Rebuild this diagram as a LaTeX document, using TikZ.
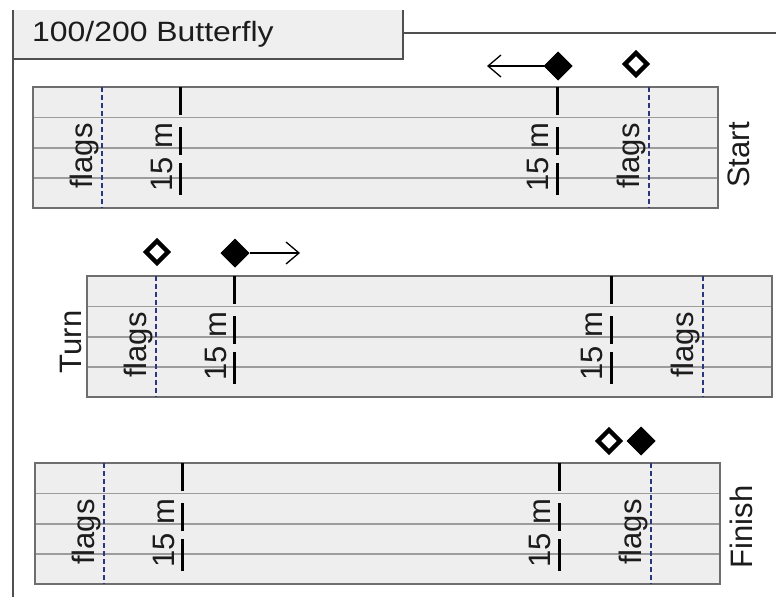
\documentclass[tikz,border=0pt]{standalone}
\usepackage{fontspec}
\setmainfont{Liberation Sans}
\usetikzlibrary{shapes.geometric,arrows.meta}
\definecolor{poolfill}{HTML}{EEEEEE}
\definecolor{pooledge}{HTML}{6E6E6E}
\definecolor{laneline}{HTML}{9C9C9C}
\definecolor{flagblue}{HTML}{28387A}
\definecolor{ink}{HTML}{1C1C1C}
\definecolor{titlefill}{HTML}{EFEFEF}
\definecolor{frameedge}{HTML}{505050}

\begin{document}
\begin{tikzpicture}[x=1pt,y=-1pt,
  lbl/.style={font=\fontsize{31}{31}\selectfont, text=ink, inner sep=0pt, rotate=90},
  titletext/.style={font=\fontsize{31}{31}\selectfont, text=ink, inner sep=0pt},
  flagline/.style={flagblue, line width=2.6pt, dash pattern=on 5pt off 3pt},
  markline/.style={black, line width=3pt},
  laneedge/.style={laneline, line width=1.2pt},
  pooledgeline/.style={pooledge, line width=1.6pt},
  frameline/.style={frameedge, line width=1.5pt},
  solidmark/.style={diamond, draw=black, fill=black, line width=1pt, minimum size=28pt, inner sep=0pt},
  openmark/.style={diamond, draw=black, fill=white, line width=4.4pt, minimum size=24pt, inner sep=0pt},
  swimarrow/.style={black, line width=1.3pt, -{Straight Barb[length=13pt,width=22pt,line width=1.3pt]}}
]
\useasboundingbox (0,0) rectangle (776,597);

% outer frame and title tab
\fill[titlefill] (13,10) rectangle (403,59);
\draw[frameline, line width=2.2pt] (13,10) -- (13,59) -- (403,59) -- (403,10);
\draw[frameline] (13,59) -- (13,597);
\draw[frameline] (403,33) -- (776,33);
\node[titletext, anchor=base west] (title) at (32,41) {\scalebox{1.03}[0.9]{100/200 Butterfly}};

% three pool lengths: start, turn, finish
\foreach \px/\py/\nm in {33/87/start, 87/276/turn, 35/463/finish} {
  \begin{scope}[shift={(\px,\py)}]
    \fill[poolfill] (0,0) rectangle (685,121);
    \foreach \ly in {30.5,61,91} \draw[laneedge] (0,\ly) -- (685,\ly);
    \draw[pooledgeline] (0,0) rectangle (685,121);
    % flag lines
    \draw[flagline] (69,0) -- (69,121);
    \draw[flagline] (616,0) -- (616,121);
    % 15 m marks
    \foreach \mx in {147,524} {
      \draw[markline] (\mx,0) -- (\mx,28);
      \draw[markline] (\mx,40) -- (\mx,68);
      \draw[markline] (\mx,76) -- (\mx,108);
    }
    \node[lbl, anchor=base] (\nm-flagsL) at (59,69) {flags};
    \node[lbl, anchor=base] (\nm-markL) at (139,70) {15 m};
    \node[lbl, anchor=base] (\nm-markR) at (515,70) {15 m};
    \node[lbl, anchor=base] (\nm-flagsR) at (606,69) {flags};
  \end{scope}
}

% side labels
\node[lbl] (startlbl) at (739,155) {Start};
\node[lbl] (turnlbl) at (71,342) {Turn};
\node[lbl] (finishlbl) at (741,527) {Finish};

% swimmer markers
\node[solidmark] (startsolid) at (558,66) {};
\node[openmark] (startopen) at (636,64) {};
\coordinate (startgo) at (487,66);
\draw[swimarrow] (startsolid.west) -- (startgo);

\node[openmark] (turnopen) at (157,252) {};
\node[solidmark] (turnsolid) at (235,253) {};
\coordinate (turngo) at (300,253);
\draw[swimarrow] (turnsolid.east) -- (turngo);

\node[openmark] (finishopen) at (609,441) {};
\node[solidmark] (finishsolid) at (641,441) {};
\end{tikzpicture}
\end{document}
